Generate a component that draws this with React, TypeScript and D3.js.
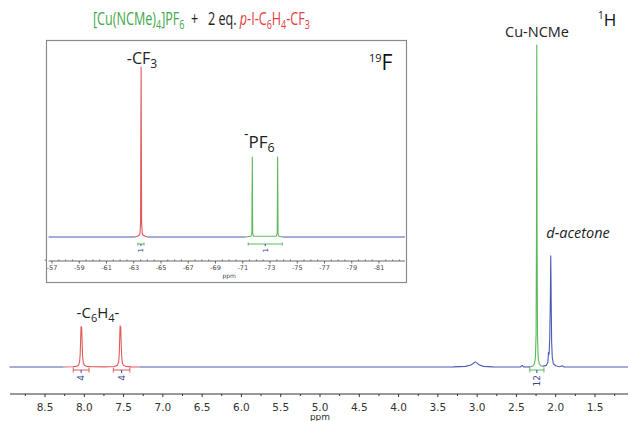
import React from "react";
import * as d3 from "d3";

// ---- 1H spectrum segments: [ppm, intensity] ----
const H_BLUE_A: [number, number][] = [[8.95, 0], [8.27, 0]];
const H_RED_ARENE: [number, number][] = [
  [8.27, 0], [8.15, 0.1], [8.1, 0.2], [8.075, 0.5], [8.06, 1.5], [8.052, 4], [8.046, 9], [8.041, 12.6],
  [8.037, 10], [8.033, 12.3], [8.028, 8], [8.022, 3.5], [8.012, 1.2], [7.995, 0.5], [7.97, 0.2], [7.9, 0.1],
  [7.75, 0.05], [7.62, 0.15], [7.58, 0.5], [7.563, 1.5], [7.555, 4], [7.549, 9], [7.544, 12.8], [7.54, 10],
  [7.536, 12.4], [7.531, 8], [7.525, 3.5], [7.515, 1.2], [7.5, 0.5], [7.47, 0.2], [7.4, 0.05], [7.3, 0],
];
const H_BLUE_B: [number, number][] = [
  [7.3, 0], [6.0, 0.02], [4.5, 0], [3.3, 0.05], [3.15, 0.2], [3.08, 0.6], [3.05, 1.1], [3.025, 1.6],
  [3.0, 1.2], [2.97, 0.6], [2.92, 0.2], [2.8, 0.05], [2.45, 0], [2.425, 0.5], [2.41, 0], [2.32, 0.05],
];
const H_GREEN_NCME: [number, number][] = [
  [2.32, 0.05], [2.29, 0.3], [2.27, 1], [2.258, 3], [2.25, 10], [2.245, 40], [2.241, 100], [2.237, 40],
  [2.232, 10], [2.224, 3], [2.21, 1], [2.19, 0.4], [2.17, 0.2],
];
const H_BLUE_C: [number, number][] = [
  [2.17, 0.2], [2.12, 0.5], [2.1, 1.5], [2.092, 4.5], [2.084, 4], [2.076, 9], [2.068, 22], [2.063, 34.5],
  [2.058, 22], [2.052, 8], [2.044, 3], [2.03, 1], [2.0, 0.4], [1.95, 0.1], [1.915, 0.4], [1.9, 0.05],
  [1.5, 0], [1.08, 0],
];

// ---- 19F inset segments ----
const F_BLUE_A: [number, number][] = [[-56.75, 0], [-63.1, 0]];
const F_RED_CF3: [number, number][] = [
  [-63.1, 0], [-63.3, 0.6], [-63.45, 1.5], [-63.5, 8], [-63.54, 100], [-63.58, 8], [-63.63, 1.5], [-63.8, 0.6], [-64.0, 0],
];
const F_BLUE_B: [number, number][] = [[-64.0, 0], [-71.2, 0]];
const F_GREEN_PF6: [number, number][] = [
  [-71.2, 0], [-71.6, 0.4], [-71.67, 2], [-71.7, 47], [-71.73, 2], [-71.8, 0.4], [-73.45, 0.4], [-73.53, 2],
  [-73.56, 47], [-73.59, 2], [-73.66, 0.4], [-73.9, 0],
];
const F_BLUE_C: [number, number][] = [[-73.9, 0], [-82.9, 0]];

// integrals
const H_INTEGRALS = [
  { from: 8.14, to: 7.94, label: "4", kind: "red" },
  { from: 7.63, to: 7.42, label: "4", kind: "red" },
  { from: 2.33, to: 2.15, label: "12", kind: "green" },
];
const F_INTEGRALS = [
  { from: -63.3, to: -63.75, label: "1", kind: "green" },
  { from: -71.4, to: -73.9, label: "1", kind: "green" },
];

const H_MAJOR = [8.5, 8.0, 7.5, 7.0, 6.5, 6.0, 5.5, 5.0, 4.5, 4.0, 3.5, 3.0, 2.5, 2.0, 1.5];
const F_MAJOR = [-57, -59, -61, -63, -65, -67, -69, -71, -73, -75, -77, -79, -81];

const BLUE = "#4b5bb3";
const RED = "#e05a5a";
const GREEN = "#5cb85c";
const T_GREEN = "#3ea84a";
const T_RED = "#e23c3c";
const INT_BLUE = "#3a4896";
const COL: Record<string, string> = { red: RED, green: GREEN };

const SANS = "'Open Sans', 'Noto Sans', sans-serif";
const TICKF = "'DejaVu Sans', sans-serif";

export default function App() {
  const W = 629, H = 421;
  // main scales
  const x = d3.scaleLinear().domain([8.5, 1.5]).range([45, 595]);
  const y = d3.scaleLinear().domain([0, 100]).range([367, 45]);
  const line = d3.line<[number, number]>().x((d) => x(d[0])).y((d) => y(d[1]));
  // inset scales
  const fx = d3.scaleLinear().domain([-57, -81]).range([52, 379]);
  const fy = d3.scaleLinear().domain([0, 100]).range([237, 67]);
  const fline = d3.line<[number, number]>().x((d) => fx(d[0])).y((d) => fy(d[1]));

  const axisY = 394;
  const minorH: number[] = d3.range(8.75, 1.1, -0.25).filter((v) => Math.abs(v * 2 - Math.round(v * 2)) > 0.01);
  const fAxisY = 261;
  const fMinor: number[] = d3.range(-56.5, -82.6, -0.5).filter((v) => !F_MAJOR.includes(v));

  return (
    <svg width={W} height={H} style={{ position: "absolute", left: 0, top: 0, background: "#fff" }}>
      <rect x={0} y={0} width={W} height={H} fill="#fff" />
      {/* title */}
      <g transform="translate(93,24.5) scale(0.72,1)">
        <text x={0} y={0} fontFamily={SANS} fontSize={17.5} fill="#222">
          <tspan fill={T_GREEN}>[Cu(NCMe)</tspan>
          <tspan fill={T_GREEN} fontSize={12.5} dy={4}>4</tspan>
          <tspan fill={T_GREEN} dy={-4}>]PF</tspan>
          <tspan fill={T_GREEN} fontSize={12.5} dy={4}>6</tspan>
          <tspan dy={-4}>{"\u00a0\u00a0+\u00a0\u00a0 2 eq. "}</tspan>
          <tspan fill={T_RED} fontStyle="italic">p</tspan>
          <tspan fill={T_RED}>-I-C</tspan>
          <tspan fill={T_RED} fontSize={12.5} dy={4}>6</tspan>
          <tspan fill={T_RED} dy={-4}>H</tspan>
          <tspan fill={T_RED} fontSize={12.5} dy={4}>4</tspan>
          <tspan fill={T_RED} dy={-4}>-CF</tspan>
          <tspan fill={T_RED} fontSize={12.5} dy={4}>3</tspan>
        </text>
      </g>
      <text x={598} y={26} fontFamily={SANS} fontSize={17} fill="#111">
        <tspan fontSize={10} dy={-7}>1</tspan>
        <tspan dy={7}>H</tspan>
      </text>
      <text x={537} y={37} textAnchor="middle" fontFamily={SANS} fontSize={14.5} fill="#222">Cu-NCMe</text>
      <text x={578} y={238} textAnchor="middle" fontFamily={SANS} fontSize={14.5} fontStyle="italic" fill="#222">d-acetone</text>
      <text x={98} y={318} textAnchor="middle" fontFamily={SANS} fontSize={15} fill="#222">
        <tspan>-C</tspan>
        <tspan fontSize={11} dy={4}>6</tspan>
        <tspan dy={-4}>H</tspan>
        <tspan fontSize={11} dy={4}>4</tspan>
        <tspan dy={-4}>-</tspan>
      </text>

      {/* main spectrum */}
      <g fill="none" strokeWidth={1.1} strokeLinejoin="round">
        <path d={line(H_BLUE_A) || ""} stroke={BLUE} />
        <path d={line(H_BLUE_B) || ""} stroke={BLUE} />
        <path d={line(H_BLUE_C) || ""} stroke={BLUE} />
        <path d={line(H_RED_ARENE) || ""} stroke={RED} />
        <path d={line(H_GREEN_NCME) || ""} stroke={GREEN} />
      </g>

      {/* main integrals */}
      {H_INTEGRALS.map((it, i) => {
        const x1 = x(it.from), x2 = x(it.to), xm = (x1 + x2) / 2, yb = 370;
        const c = COL[it.kind];
        return (
          <g key={i}>
            <path d={`M${x1},${yb - 2.5}V${yb + 2.5}M${x1},${yb}H${x2}M${x2},${yb - 2.5}V${yb + 2.5}`} stroke={c} strokeWidth={1} fill="none" />
            <line x1={xm} x2={xm} y1={yb} y2={yb + 3} stroke={INT_BLUE} strokeWidth={1} />
            <text transform={`translate(${xm + 3.3},${yb + 5}) rotate(-90)`} textAnchor="end" fontFamily={TICKF} fontSize={9} fill={INT_BLUE}>{it.label}</text>
          </g>
        );
      })}

      {/* main axis */}
      <line x1={10} x2={628} y1={axisY} y2={axisY} stroke="#333" strokeWidth={1} />
      {H_MAJOR.map((v) => (
        <g key={v}>
          <line x1={x(v)} x2={x(v)} y1={axisY} y2={axisY + 3} stroke="#333" />
          <text x={x(v)} y={411} textAnchor="middle" fontFamily={TICKF} fontSize={10.5} fill="#333">{v.toFixed(1)}</text>
        </g>
      ))}
      {minorH.map((v) => (
        <line key={v} x1={x(v)} x2={x(v)} y1={axisY} y2={axisY + 2} stroke="#333" />
      ))}
      <text x={320} y={420} textAnchor="middle" fontFamily={TICKF} fontSize={9} fill="#333">ppm</text>

      {/* inset */}
      <rect x={46.5} y={40.5} width={360} height={242} fill="#fff" stroke="#8a8a8a" strokeWidth={1.2} />
      <text x={142} y={64} textAnchor="middle" fontFamily={SANS} fontSize={16} fill="#222">
        <tspan>-CF</tspan>
        <tspan fontSize={12} dy={4}>3</tspan>
      </text>
      <text x={244} y={148} fontFamily={SANS} fontSize={17} fill="#222">
        <tspan fontSize={14} dy={-9}>-</tspan>
        <tspan dy={9}>PF</tspan>
        <tspan fontSize={12.5} dy={4}>6</tspan>
      </text>
      <text x={369} y={70} fontFamily={SANS} fontSize={21} fill="#111">
        <tspan fontSize={11} dy={-8}>19</tspan>
        <tspan dy={8}>F</tspan>
      </text>
      <g fill="none" strokeWidth={1.1} strokeLinejoin="round">
        <path d={fline(F_BLUE_A) || ""} stroke={BLUE} />
        <path d={fline(F_BLUE_B) || ""} stroke={BLUE} />
        <path d={fline(F_BLUE_C) || ""} stroke={BLUE} />
        <path d={fline(F_RED_CF3) || ""} stroke={RED} />
        <path d={fline(F_GREEN_PF6) || ""} stroke={GREEN} />
      </g>
      {F_INTEGRALS.map((it, i) => {
        const x1 = fx(it.from), x2 = fx(it.to), xm = (x1 + x2) / 2, yb = 244;
        const c = COL[it.kind];
        return (
          <g key={i}>
            <path d={`M${x1},${yb - 1.5}V${yb + 1.5}M${x1},${yb}H${x2}M${x2},${yb - 1.5}V${yb + 1.5}`} stroke={c} strokeWidth={1} fill="none" />
            <line x1={xm} x2={xm} y1={yb} y2={yb + 2} stroke={INT_BLUE} strokeWidth={1} />
            <text transform={`translate(${xm + 2.5},${yb + 4}) rotate(-90)`} textAnchor="end" fontFamily={TICKF} fontSize={7} fill={INT_BLUE}>{it.label}</text>
          </g>
        );
      })}
      <line x1={fx(-56.75)} x2={fx(-82.9)} y1={fAxisY} y2={fAxisY} stroke="#444" strokeWidth={0.8} />
      {F_MAJOR.map((v) => (
        <g key={v}>
          <line x1={fx(v)} x2={fx(v)} y1={fAxisY} y2={fAxisY + 2.5} stroke="#444" strokeWidth={0.8} />
          <text x={fx(v)} y={270} textAnchor="middle" fontFamily={TICKF} fontSize={6.5} fill="#444">{v}</text>
        </g>
      ))}
      {fMinor.map((v) => (
        <line key={v} x1={fx(v)} x2={fx(v)} y1={fAxisY - 1.5} y2={fAxisY} stroke="#444" strokeWidth={0.7} />
      ))}
      <text x={fx(-70)} y={278} textAnchor="middle" fontFamily={TICKF} fontSize={6} fill="#444">ppm</text>
    </svg>
  );
}
